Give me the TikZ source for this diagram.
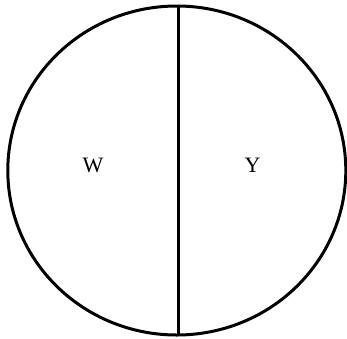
\documentclass[tikz,border=0pt]{standalone}
\usepackage{fontspec}
\setmainfont{Liberation Serif}
\usetikzlibrary{positioning,shapes.geometric}

\begin{document}
\begin{tikzpicture}[x=1pt,y=-1pt,
  part/.style={font=\fontsize{22}{22}\selectfont,inner sep=0pt},
  rim/.style={draw=black,line width=3pt}]
  \useasboundingbox (0,0) rectangle (347,338);
  % outer ring split in two halves
  \node[rim,ellipse,minimum width=338pt,minimum height=329pt,inner sep=0pt] (ring) at (176.8,170.5) {};
  \coordinate (top) at (178,6);
  \coordinate (bot) at (178,335);
  \draw[rim] (top) -- (bot);
  \node[part] (w) at (93,165) {W};
  \node[part] (y) at (252.5,165) {Y};
\end{tikzpicture}
\end{document}
